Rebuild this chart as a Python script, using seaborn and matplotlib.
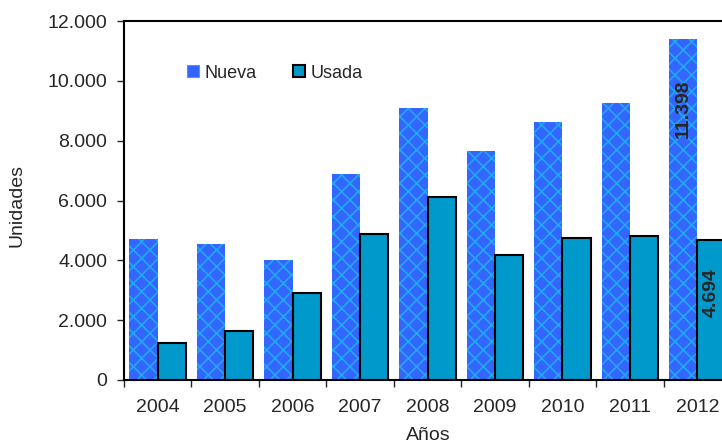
import pandas as pd
import numpy as np
import matplotlib.pyplot as plt
import seaborn as sns
from matplotlib.lines import Line2D
from matplotlib.ticker import FuncFormatter

# datos
anios = ['2004', '2005', '2006', '2007', '2008', '2009', '2010', '2011', '2012']
nueva = [4700, 4530, 4020, 6870, 9080, 7640, 8610, 9260, 11398]
usada = [1240, 1640, 2920, 4870, 6110, 4170, 4740, 4810, 4694]
series = ['Nueva', 'Usada']

df = pd.DataFrame({
    'Año': anios * 2,
    'Unidades': nueva + usada,
    'Tipo': ['Nueva'] * len(anios) + ['Usada'] * len(anios),
})

sns.set_style('ticks')
plt.rcParams['font.family'] = ['Liberation Sans', 'DejaVu Sans']
plt.rcParams['hatch.linewidth'] = 1.2

col_nueva = '#3366FF'
col_hatch = '#22A8F0'
col_usada = '#0099CC'

fig = plt.figure(figsize=(7.22, 4.45), dpi=100)
ax = fig.add_axes([124 / 722, 1 - 380 / 445, (731 - 124) / 722, (380 - 21) / 445])

sns.barplot(data=df, x='Año', y='Unidades', hue='Tipo', hue_order=series,
            palette=[col_nueva, col_usada], saturation=1, width=0.84,
            legend=False, ax=ax)

for bar in ax.containers[0]:
    bar.set_hatch('xx')
    bar.set_edgecolor(col_hatch)
    bar.set_linewidth(0)
for bar in ax.containers[1]:
    bar.set_edgecolor('black')
    bar.set_linewidth(1.5)

fmt = lambda v: f'{int(round(v)):,}'.replace(',', '.')

# etiquetas del último año
b_n = ax.containers[0][-1]
b_u = ax.containers[1][-1]
ax.text(b_n.get_x() + b_n.get_width() / 2, 9070, fmt(nueva[-1]), rotation=90,
        ha='center', va='center', fontsize=14, fontweight='bold')
ax.text(b_u.get_x() + b_u.get_width() / 2, 2930, fmt(usada[-1]), rotation=90,
        ha='center', va='center', fontsize=14, fontweight='bold')

ax.set_ylim(0, 12000)
ax.set_yticks(np.arange(0, 12001, 2000))
ax.yaxis.set_major_formatter(FuncFormatter(lambda v, p: fmt(v)))
ax.set_xlim(-0.5, len(anios) - 0.5)
ax.set_xticks(np.arange(-0.5, len(anios), 1), minor=True)
ax.tick_params(axis='x', which='major', length=0, pad=14, labelsize=14)
ax.tick_params(axis='x', which='minor', length=5, width=1)
ax.tick_params(axis='y', length=5, width=1, pad=7, labelsize=14)

for s in ['left', 'top', 'bottom']:
    ax.spines[s].set_linewidth(1.5)
    ax.spines[s].set_color('black')
ax.spines['right'].set_visible(False)

ax.set_ylabel('Unidades', fontsize=14)
ax.set_xlabel('Años', fontsize=14)
ax.yaxis.set_label_coords(-0.163, 0.486)
ax.xaxis.set_label_coords(0.5008, -0.131)

handles = [
    Line2D([], [], marker='s', linestyle='', markersize=9,
           markerfacecolor=col_nueva, markeredgecolor='#6688FF', markeredgewidth=0.8),
    Line2D([], [], marker='s', linestyle='', markersize=9,
           markerfacecolor=col_usada, markeredgecolor='black', markeredgewidth=1.5),
]
ax.legend(handles, series, loc='center left', bbox_to_anchor=(0.102, 0.855),
          ncol=2, frameon=False, fontsize=13, borderpad=0, handlelength=0.8,
          handletextpad=0.25, columnspacing=1.9, borderaxespad=0)

fig.savefig('out.png', dpi=100)
print('out.png generated.')
